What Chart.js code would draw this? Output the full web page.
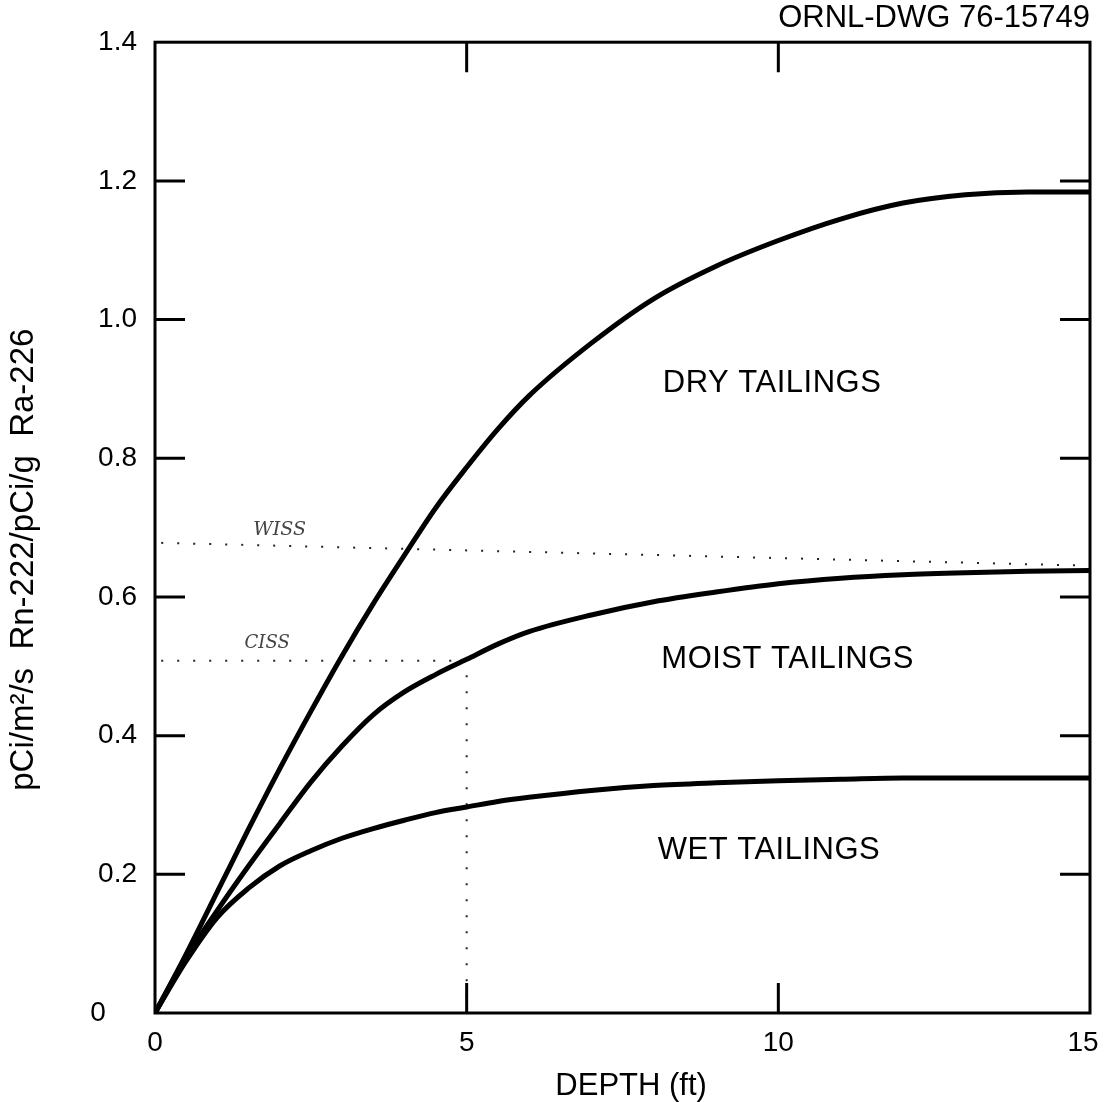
<!DOCTYPE html>
<html>
<head>
<meta charset="utf-8">
<script src="https://cdn.jsdelivr.net/npm/chart.js@4.4.0/dist/chart.umd.min.js"></script>
<style>
  html, body { margin: 0; padding: 0; background: #fff; }
  #wrap { width: 1104px; height: 1102px; }
</style>
</head>
<body>
<div id="wrap"><canvas id="grafico" width="1104" height="1102"></canvas></div>
<script>
// === Data ===
const depth = [0, 0.5, 1, 1.5, 2, 2.5, 3, 3.5, 4, 4.5, 5, 5.5, 6, 7, 8, 9, 10, 11, 12, 13, 14, 15];
const dry   = [0, 0.085, 0.175, 0.265, 0.352, 0.435, 0.515, 0.59, 0.66, 0.728, 0.787, 0.842, 0.89, 0.966, 1.03, 1.077, 1.114, 1.145, 1.168, 1.18, 1.184, 1.184];
const moist = [0, 0.08, 0.148, 0.212, 0.273, 0.333, 0.385, 0.43, 0.463, 0.488, 0.51, 0.532, 0.55, 0.574, 0.593, 0.607, 0.619, 0.627, 0.632, 0.635, 0.637, 0.638];
const wet   = [0, 0.075, 0.138, 0.18, 0.212, 0.234, 0.252, 0.266, 0.278, 0.289, 0.297, 0.305, 0.311, 0.321, 0.328, 0.332, 0.335, 0.337, 0.339, 0.339, 0.339, 0.339];

// dotted reference lines (WISS / CISS)
const wissDepth = [0.1, 15];
const wissLevel = [0.678, 0.645];
const cissDepth = [0.1, 5, 5];
const cissLevel = [0.508, 0.508, 0];

const xTicks = [0, 5, 10, 15];
const yTicks = [0, 0.2, 0.4, 0.6, 0.8, 1.0, 1.2, 1.4];

const pts = (xs, ys) => xs.map((v, i) => ({ x: v, y: ys[i] }));

// === Text placed inside the plot ===
const SANS = "'Liberation Sans', Arial, sans-serif";
const notes = [
  { text: "DRY TAILINGS", x: 9.9, y: 0.908, font: "31px " + SANS },
  { text: "MOIST TAILINGS", x: 10.15, y: 0.51, font: "31px " + SANS },
  { text: "WET TAILINGS", x: 9.85, y: 0.234, font: "31px " + SANS },
  { text: "WISS", x: 2.0, y: 0.697, font: "italic 19px 'DejaVu Serif', serif" },
  { text: "CISS", x: 1.8, y: 0.533, font: "italic 18px 'DejaVu Serif', serif" },
];

// === Frame, inward ticks and labels ===
const framePlugin = {
  id: "frame",
  afterDatasetsDraw(chart) {
    const { ctx, chartArea: a, scales: { x, y } } = chart;
    const len = 30;
    ctx.save();
    ctx.strokeStyle = "#000";
    ctx.lineWidth = 3;
    ctx.strokeRect(a.left, a.top, a.right - a.left, a.bottom - a.top);
    ctx.beginPath();
    xTicks.slice(1, -1).forEach(v => {
      const px = x.getPixelForValue(v);
      ctx.moveTo(px, a.bottom); ctx.lineTo(px, a.bottom - len);
      ctx.moveTo(px, a.top); ctx.lineTo(px, a.top + len);
    });
    yTicks.slice(1, -1).forEach(v => {
      const py = y.getPixelForValue(v);
      ctx.moveTo(a.left, py); ctx.lineTo(a.left + len, py);
      ctx.moveTo(a.right, py); ctx.lineTo(a.right - len, py);
    });
    ctx.stroke();

    ctx.textAlign = "center";
    ctx.textBaseline = "middle";
    notes.forEach(n => {
      const hand = n.font.startsWith("italic");
      ctx.font = n.font;
      ctx.letterSpacing = hand ? "0px" : "0.5px";
      ctx.fillStyle = hand ? "#444" : "#000";
      ctx.fillText(n.text, x.getPixelForValue(n.x), y.getPixelForValue(n.y));
    });
    ctx.restore();
  },
};

const curve = (data) => ({
  data,
  borderColor: "#000",
  borderWidth: 5,
  pointRadius: 0,
  cubicInterpolationMode: "monotone",
  fill: false,
});

const dotted = (data) => ({
  data,
  borderColor: "#222",
  borderWidth: 2,
  borderDash: [2, 14],
  pointRadius: 0,
  tension: 0,
  fill: false,
});

const ctx = document.getElementById("grafico").getContext("2d");

new Chart(ctx, {
  type: "line",
  data: {
    datasets: [
      curve(pts(depth, dry)),
      curve(pts(depth, moist)),
      curve(pts(depth, wet)),
      dotted(pts(wissDepth, wissLevel)),
      dotted(pts(cissDepth, cissLevel)),
    ],
  },
  options: {
    responsive: false,
    animation: false,
    layout: { padding: { left: 0, right: 14, top: 0, bottom: 0 } },
    plugins: {
      legend: { display: false },
      tooltip: { enabled: false },
      title: {
        display: true,
        text: "ORNL-DWG 76-15749",
        align: "end",
        color: "#000",
        font: { family: SANS, size: 31, weight: "normal" },
        padding: { top: 0, bottom: 5 },
      },
    },
    scales: {
      x: {
        type: "linear",
        min: 0,
        max: 15,
        afterFit: (s) => { s.height = 89; s.paddingLeft = 0; s.paddingRight = 0; },
        afterBuildTicks: (s) => { s.ticks = xTicks.map(v => ({ value: v })); },
        grid: { display: false, drawTicks: false },
        border: { display: false },
        ticks: {
          color: "#000",
          padding: 13,
          maxRotation: 0,
          // last label pulled a little inside the canvas
          callback: (v) => (v === 15 ? "15\u2002" : String(v)),
          font: { family: SANS, size: 28 },
        },
        title: {
          display: true,
          text: "  DEPTH (ft)",
          color: "#000",
          font: { family: SANS, size: 31, lineHeight: 1 },
          padding: { top: 0, bottom: 0 },
        },
      },
      y: {
        type: "linear",
        min: 0,
        max: 1.4,
        afterFit: (s) => { s.width = 155; },
        afterBuildTicks: (s) => { s.ticks = yTicks.map(v => ({ value: v })); },
        grid: { display: false, drawTicks: false },
        border: { display: false },
        ticks: {
          color: "#000",
          padding: 18,
          callback: (v) => (v === 0 ? "0    " : v.toFixed(1)),
          font: { family: SANS, size: 28 },
        },
        title: {
          display: true,
          text: "pCi/m²/s  Rn-222/pCi/g  Ra-226       ",
          color: "#000",
          font: { family: SANS, size: 33 },
          padding: { top: 4, bottom: 0 },
        },
      },
    },
  },
  plugins: [framePlugin],
});
</script>
</body>
</html>
